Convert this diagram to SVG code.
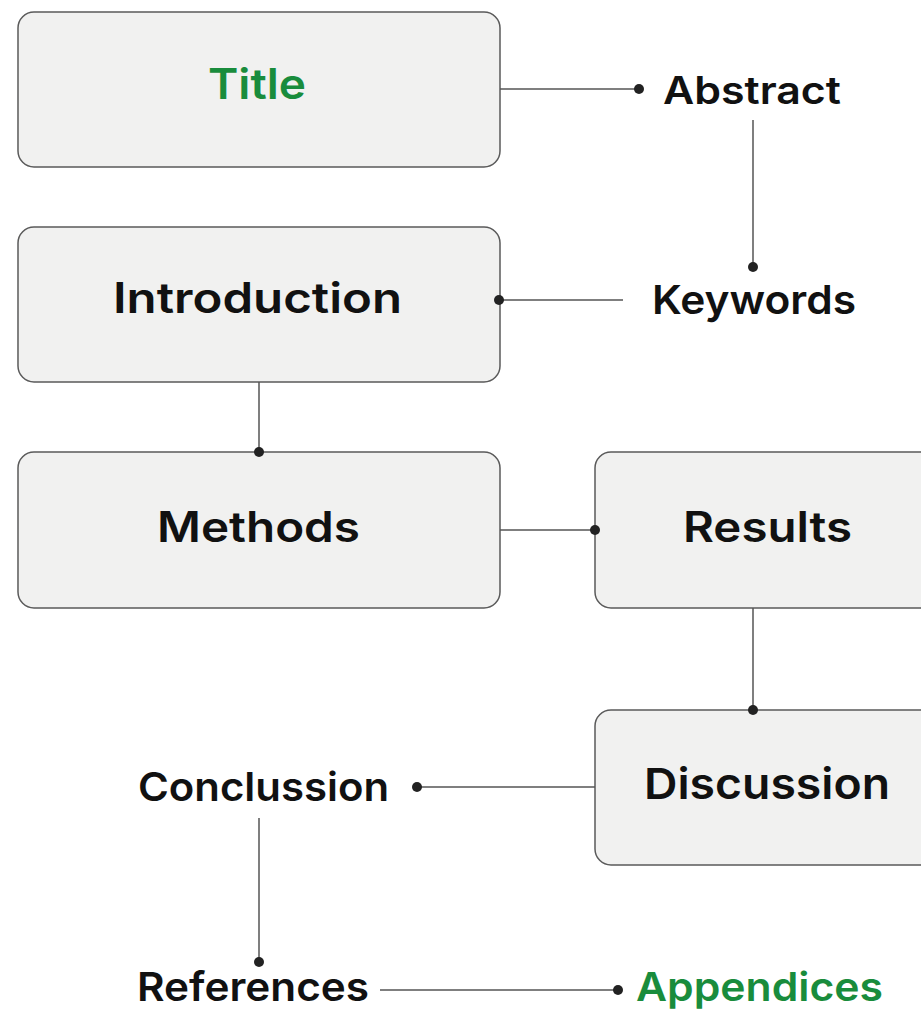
<svg xmlns="http://www.w3.org/2000/svg" width="921" height="1010" viewBox="0 0 921 1010">
<style>
.box{fill:#f1f1f0;stroke:#5a5a5a;stroke-width:1.5}
.t{font-family:Inter,"Open Sans","Liberation Sans",sans-serif;font-weight:600;fill:#111}
.g{fill:#198c3c}
.c line{stroke:#555;stroke-width:1.5}
.c circle{fill:#222}
</style>
<rect width="921" height="1010" fill="#fff"/>
<g id="title"><rect class="box" x="18" y="12" width="482" height="155" rx="16"/><text class="t g" x="208" y="99" font-size="42" textLength="98" lengthAdjust="spacingAndGlyphs">Title</text></g>
<g id="abstract"><text class="t" x="663" y="104" font-size="38" textLength="178" lengthAdjust="spacingAndGlyphs">Abstract</text></g>
<g id="introduction"><rect class="box" x="18" y="227" width="482" height="155" rx="16"/><text class="t" x="113" y="313" font-size="42" textLength="289" lengthAdjust="spacingAndGlyphs">Introduction</text></g>
<g id="keywords"><text class="t" x="652" y="314" font-size="40" textLength="204" lengthAdjust="spacingAndGlyphs">Keywords</text></g>
<g id="methods"><rect class="box" x="18" y="452" width="482" height="156" rx="16"/><text class="t" x="157" y="542" font-size="42" textLength="203" lengthAdjust="spacingAndGlyphs">Methods</text></g>
<g id="results"><rect class="box" x="595" y="452" width="346" height="156" rx="16"/><text class="t" x="683" y="542" font-size="42" textLength="169" lengthAdjust="spacingAndGlyphs">Results</text></g>
<g id="discussion"><rect class="box" x="595" y="710" width="346" height="155" rx="16"/><text class="t" x="644" y="799" font-size="43" textLength="246" lengthAdjust="spacingAndGlyphs">Discussion</text></g>
<g id="conclussion"><text class="t" x="138" y="801" font-size="40" textLength="251" lengthAdjust="spacingAndGlyphs">Conclussion</text></g>
<g id="references"><text class="t" x="137" y="1001" font-size="40" textLength="232" lengthAdjust="spacingAndGlyphs">References</text></g>
<g id="appendices"><text class="t g" x="636" y="1001" font-size="40" textLength="247" lengthAdjust="spacingAndGlyphs">Appendices</text></g>
<g id="connectors" class="c">
<line x1="500" y1="89" x2="639" y2="89"/><circle cx="639" cy="89" r="5"/>
<line x1="753" y1="120" x2="753" y2="267"/><circle cx="753" cy="267" r="5"/>
<line x1="623" y1="300" x2="499" y2="300"/><circle cx="499" cy="300" r="5"/>
<line x1="259" y1="382" x2="259" y2="452"/><circle cx="259" cy="452" r="5"/>
<line x1="500" y1="530" x2="595" y2="530"/><circle cx="595" cy="530" r="5"/>
<line x1="753" y1="608" x2="753" y2="710"/><circle cx="753" cy="710" r="5"/>
<line x1="595" y1="787" x2="417" y2="787"/><circle cx="417" cy="787" r="5"/>
<line x1="259" y1="818" x2="259" y2="962"/><circle cx="259" cy="962" r="5"/>
<line x1="380" y1="990" x2="618" y2="990"/><circle cx="618" cy="990" r="5"/>
</g>
</svg>
